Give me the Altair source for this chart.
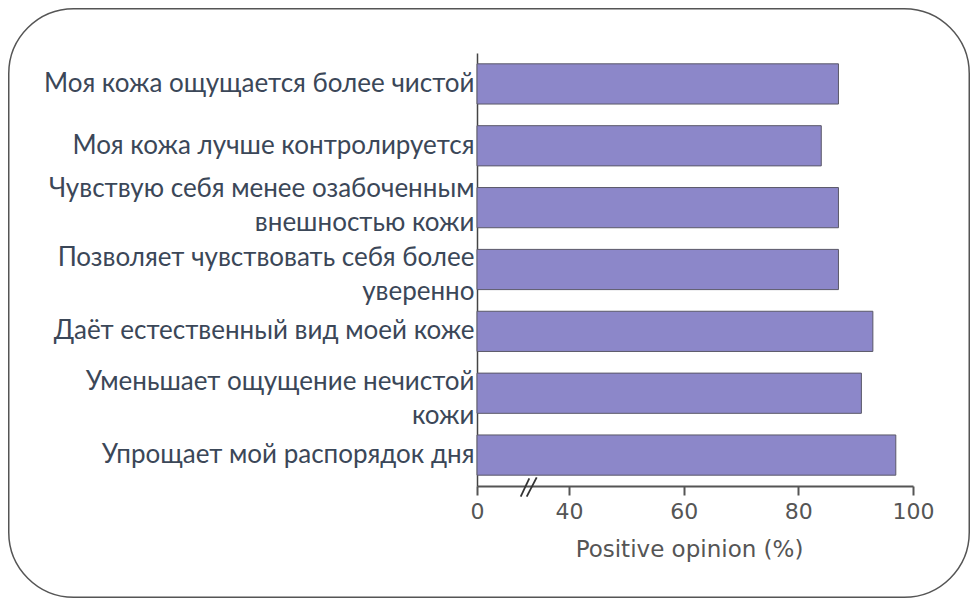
import altair as alt
import pandas as pd

# ---- data ----
categories = [
    "Моя кожа ощущается более чистой",
    "Моя кожа лучше контролируется",
    "Чувствую себя менее озабоченным|внешностью кожи",
    "Позволяет чувствовать себя более|уверенно",
    "Даёт естественный вид моей коже",
    "Уменьшает ощущение нечистой|кожи",
    "Упрощает мой распорядок дня",
]
values = [87, 84, 87, 87, 93, 91, 97]
tick_values = [0, 40, 60, 80, 100]
x_title = "Positive opinion (%)"

df = pd.DataFrame({"item": categories, "value": values})

W, H = 436, 433
PAD = {"left": 469, "top": 45, "right": 57, "bottom": 112}

label_offset = {
    "condition": [
        {"test": "indexof(datum.label, 'Чувствую') == 0", "value": -19},
        {"test": "indexof(datum.label, 'Позволяет') == 0", "value": -12},
        {"test": "indexof(datum.label, 'Уменьшает') == 0", "value": -11},
    ],
    "value": 0,
}

bars = alt.Chart(df).mark_bar(
    color="#8c87c9", stroke="#5a5868", strokeWidth=1
).encode(
    x=alt.X(
        "value:Q",
        scale=alt.Scale(domain=[0, 40, 100], range=[0, 92, W], nice=False, zero=False),
        axis=alt.Axis(
            values=tick_values,
            title=x_title,
            grid=False,
            domainColor="#555555",
            domainWidth=2,
            tickColor="#555555",
            tickWidth=2,
            tickSize=9,
            labelPadding=6,
            labelFlush=False,
            labelFont="DejaVu Sans",
            labelFontSize=22,
            labelColor="#555555",
            titleFont="DejaVu Sans",
            titleFontSize=23,
            titleFontWeight="normal",
            titleColor="#555555",
            titleX=212,
            titleY=70,
            titleAlign="center",
            titleBaseline="alphabetic",
        ),
    ),
    y=alt.Y(
        "item:N",
        sort=categories,
        scale=alt.Scale(paddingInner=0.35, paddingOuter=0.175),
        axis=alt.Axis(
            title=None,
            ticks=False,
            grid=False,
            domainColor="#444444",
            domainWidth=1.5,
            labelPadding=3,
            labelLimit=0,
            labelFont="Lato, Noto Sans",
            labelFontSize=26,
            labelColor="#3b4758",
            labelLineHeight=34,
            labelOffset=label_offset,
            labelExpr="split(datum.label, '|')",
        ),
    ),
)

one = alt.Data(values=[{"k": 1}])

frame = alt.Chart(one).mark_rect(
    filled=False, stroke="#555555", strokeWidth=1.5, cornerRadius=65
).encode(
    x=alt.value(-468.25), x2=alt.value(492.25),
    y=alt.value(-44.25), y2=alt.value(544.25),
)

slash1 = alt.Chart(one).mark_rule(color="#333333", strokeWidth=1.8).encode(
    x=alt.value(43.7), y=alt.value(443.7), x2=alt.value(52.3), y2=alt.value(425.3)
)
slash2 = alt.Chart(one).mark_rule(color="#333333", strokeWidth=1.8).encode(
    x=alt.value(49.7), y=alt.value(443.7), x2=alt.value(59.7), y2=alt.value(424.3)
)

chart = alt.layer(frame, bars, slash1, slash2).properties(
    width=W, height=H,
    autosize=alt.AutoSizeParams(type="none"),
    padding=PAD,
    background="white",
).configure_view(strokeWidth=0)

chart.save("out.html", embed_options={"renderer": "svg", "actions": False})
